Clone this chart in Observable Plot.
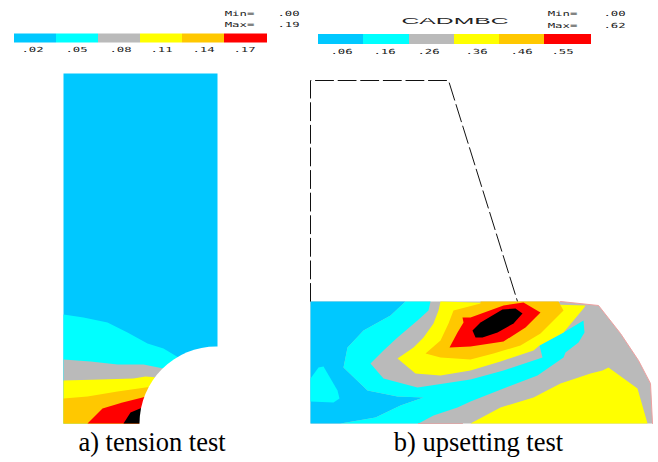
<!DOCTYPE html>
<html>
<head>
<meta charset="utf-8">
<script src="https://cdn.jsdelivr.net/npm/d3@7"></script>
<script src="https://cdn.jsdelivr.net/npm/@observablehq/plot@0.6"></script>
<style>html,body{margin:0;padding:0;background:#fff}svg{display:block}</style>
</head>
<body>
<div id="chart"></div>
<script>
const BLUE="#00c8ff",CYAN="#00ffff",GRAY="#bababa",YELLOW="#ffff00",ORANGE="#ffc800",RED="#ff0000",BLACK="#000000";
const legendColors=[BLUE,CYAN,GRAY,YELLOW,ORANGE,RED];

const legendAEdges=[14,56,98,140,182,224,267];
const legendBEdges=[318,363,409,454,499,544,591];
const legendALabels=[".02",".05",".08",".11",".14",".17"];
const legendBLabels=[".06",".16",".26",".36",".46",".55"];
const legendALabelX=[32,76,120,161,203,244];
const legendBLabelX=[341,384,428,476,521,562];

const tensionBlue=[[63,73],[217,73],[217,423],[63,423]];
const tensionCyan=[[63,314],[83,317],[107,322],[127,332],[147,343],[163,348],[178,357],[178,423],[63,423]];
const tensionGray=[[63,359],[90,361],[117,364],[143,364],[163,368],[163,423],[63,423]];
const tensionYellow=[[63,380],[100,379],[133,378],[145,376],[158,377],[158,423],[63,423]];
const tensionOrange=[[63,398],[87,396],[117,391],[152,386],[152,423],[63,423]];
const tensionRed=[[87,423],[102,408],[122,402],[150,395],[150,423]];
const tensionBlack=[[123,423],[130,412],[142,407],[145,423]];
const notch=[{x:216,y:423}];

const upsetShape=[[310,301],[560,301],[598,305],[620,333],[638,360],[650,383],[652,423],[310,423]];
const upsetEdge=[[560,301],[598,305],[620,333],[638,360],[650,383],[652,423]];
const upsetBottomEdge=[[418,423],[462,423]];
const upsetBlue=[[310,301],[405,301],[390,315],[363,330],[347,347],[343,367],[367,390],[397,396],[423,397],[400,405],[375,417],[340,423],[310,423]];
const upsetCyanBand=[[390,301],[430,301],[428,310],[417,320],[397,337],[383,350],[370,363],[383,378],[417,387],[470,379],[503,370],[542,357],[539,345],[563,332],[583,320],[584,332],[578,342],[565,352],[563,357],[537,375],[503,388],[470,401],[457,407],[433,415],[418,423],[340,423],[375,417],[400,405],[423,397],[397,396],[367,390],[343,367],[347,347],[363,330],[390,315],[405,301]];
const upsetCyanIsland=[[310,378],[318,367],[323,366],[337,390],[339,398],[333,402],[310,401]];
const upsetYellowTop=[[440,301],[585,305],[583,308],[563,332],[539,345],[533,350],[500,361],[470,370],[440,375],[415,373],[397,358],[413,347],[423,337],[433,323],[438,310]];
const upsetYellowLow=[[470,423],[500,407],[533,397],[560,383],[590,373],[602,370],[608,367],[637,388],[647,423]];
const upsetOrange=[[480,301],[558,301],[563,310],[540,333],[520,345],[493,353],[470,359],[440,357],[425,353],[440,340],[448,323],[453,310],[480,303]];
const upsetRed=[[470,317],[503,305],[523,302],[540,312],[525,327],[503,341],[470,346],[449,347],[457,332],[463,322],[462,317]];
const upsetBlack=[[472,330],[480,322],[502,309],[515,308],[522,313],[513,323],[497,332],[482,337],[475,337]];
const undeformedOutline=[[310,301],[310,80],[448,80],[517,301]];

const regions=[
  [tensionBlue,BLUE],[tensionCyan,CYAN],[tensionGray,GRAY],[tensionYellow,YELLOW],[tensionOrange,ORANGE],[tensionRed,RED],[tensionBlack,BLACK],
  [upsetShape,GRAY],[upsetBlue,BLUE],[upsetCyanBand,CYAN],[upsetCyanIsland,CYAN],[upsetYellowTop,YELLOW],[upsetYellowLow,YELLOW],[upsetOrange,ORANGE],[upsetRed,RED],[upsetBlack,BLACK]
];
const regionRows=regions.map(([pts,color],i)=>({
  type:"Feature",properties:{color,i},
  geometry:{type:"Polygon",coordinates:[[...pts,pts[0]].map(p=>[p[0],p[1]])]}
}));
const legendRows=(edges,labels)=>labels.map((l,i)=>({x1:edges[i],x2:edges[i+1],color:legendColors[i]}));
const legendRects=[...legendRows(legendAEdges,legendALabels).map(d=>({...d,y1:33.5,y2:42.5})),...legendRows(legendBEdges,legendBLabels).map(d=>({...d,y1:34,y2:44}))];

const smallText=[
  ...legendALabels.map((t,i)=>({t,x:legendALabelX[i],y:49.5})),
  ...legendBLabels.map((t,i)=>({t,x:legendBLabelX[i],y:51})),
  {t:"Min=",x:239,y:13},{t:"Max=",x:239,y:24},{t:".00",x:288,y:13},{t:".19",x:288,y:24},
  {t:"Min=",x:562,y:13.5},{t:"Max=",x:562,y:25.5},{t:".00",x:614,y:13.5},{t:".62",x:614,y:25.5}
];

const svg=Plot.plot({
  width:658,height:462,margin:0,
  x:{domain:[0,658],range:[0,658],axis:null},
  y:{domain:[0,462],range:[0,462],axis:null},
  style:{background:"#fff"},
  marks:[
    Plot.line(undeformedOutline,{x:d=>d[0],y:d=>d[1],stroke:"#111",strokeWidth:1,strokeDasharray:"18,4.6"}),
    Plot.geo(regionRows,{projection:null,fill:d=>d.properties.color}),
    Plot.line(upsetEdge,{x:d=>d[0],y:d=>d[1],stroke:"#f0a0a0",strokeWidth:1}),
    Plot.line(upsetBottomEdge,{x:d=>d[0],y:d=>d[1],stroke:"#d8a8a8",strokeWidth:1}),
    Plot.dot(notch,{x:"x",y:"y",r:77,fill:"#fff"}),
    Plot.rect(legendRects,{x1:"x1",x2:"x2",y1:"y1",y2:"y2",fill:d=>d.color}),
    Plot.text(smallText,{x:"x",y:"y",text:"t",fontSize:7,fontFamily:"DejaVu Sans Mono",fill:"#222",className:"small"}),
    Plot.text([{t:"CADMBC",x:454.5,y:20}],{x:"x",y:"y",text:"t",fontSize:9.5,fontFamily:"Liberation Sans",fill:"#222",className:"brand"}),
    Plot.text([{t:"a) tension test",x:151.5,y:442},{t:"b) upsetting test",x:478,y:442}],{x:"x",y:"y",text:"t",fontSize:26.5,fontFamily:"Liberation Serif",fill:"#000"})
  ]
});
document.getElementById("chart").append(svg);
svg.querySelectorAll(".small text").forEach(n=>{
  n.setAttribute("textLength",String(n.textContent.length*7.4));
  n.setAttribute("lengthAdjust","spacingAndGlyphs");
});
svg.querySelectorAll(".brand text").forEach(n=>{
  n.setAttribute("textLength","107");
  n.setAttribute("lengthAdjust","spacingAndGlyphs");
});
</script>
</body>
</html>
